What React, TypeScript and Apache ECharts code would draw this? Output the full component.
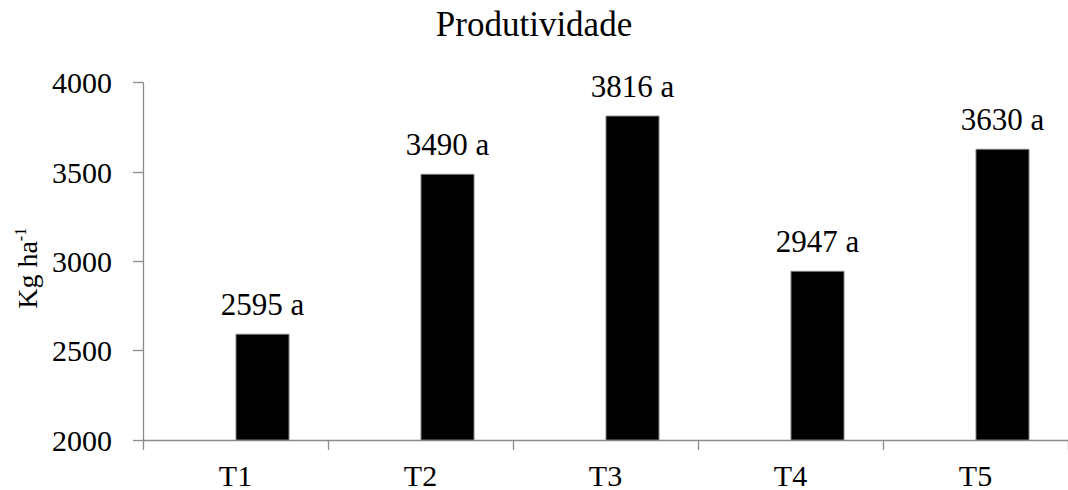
import React, { useEffect, useRef } from "react";
import * as echarts from "echarts";

const categories = ["T1", "T2", "T3", "T4", "T5"];
const yields = [2595, 3490, 3816, 2947, 3630];
const letters = ["a", "a", "a", "a", "a"];
const spacer = ["-", "-", "-", "-", "-"];
const yMin = 2000;
const yMax = 4000;
const yStep = 500;

const FONT = "Liberation Serif";

export default function App() {
  const ref = useRef<HTMLDivElement>(null);
  useEffect(() => {
    document.body.style.margin = "0";
    if (!ref.current) return;
    const chart = echarts.init(ref.current, null, { renderer: "svg" });
    chart.setOption({
      animation: false,
      textStyle: { fontFamily: FONT, color: "#000" },
      title: {
        text: "Produtividade",
        left: "center",
        top: 7,
        padding: [0, 0, 0, 10],
        textStyle: { fontFamily: FONT, fontSize: 35, fontWeight: "normal", color: "#000" },
      },
      grid: { left: 143, top: 82.7, bottom: 49, right: -11.5, containLabel: false },
      xAxis: {
        type: "category",
        data: categories,
        axisLine: { lineStyle: { color: "#8c8c8c", width: 1.3 } },
        axisTick: { show: true, length: 10, inside: false, alignWithLabel: false, lineStyle: { color: "#8c8c8c", width: 1.3 } },
        axisLabel: { fontFamily: FONT, fontSize: 30, color: "#000", margin: 20 },
      },
      yAxis: {
        type: "value",
        min: yMin,
        max: yMax,
        interval: yStep,
        name: "{n|Kg ha}{s|-1}",
        nameLocation: "middle",
        nameGap: 100,
        nameTextStyle: {
          fontFamily: FONT,
          color: "#000",
          padding: [0, 14, 0, 0],
          rich: {
            n: { fontFamily: FONT, fontSize: 28, color: "#000" },
            s: { fontFamily: FONT, fontSize: 16, color: "#000", verticalAlign: "top", padding: [0, 0, 14, 0] },
          },
        },
        axisLine: { show: true, lineStyle: { color: "#8c8c8c", width: 1.3 } },
        axisTick: { show: true, length: 10, lineStyle: { color: "#8c8c8c", width: 1.3 } },
        splitLine: { show: false },
        axisLabel: {
          fontFamily: FONT,
          fontSize: 30,
          color: "#000",
          margin: 31,
          formatter: (v: number) => String(v),
        },
      },
      series: [
        {
          name: "spacer",
          type: "bar",
          data: spacer,
          barWidth: 54,
          barGap: "0%",
          itemStyle: { color: "transparent" },
        },
        {
          name: "Produtividade",
          type: "bar",
          data: yields,
          barWidth: 54,
          barGap: "0%",
          itemStyle: { color: "#000", borderColor: "#7f7f7f", borderWidth: 1 },
          label: {
            show: true,
            position: "top",
            distance: 14,
            fontFamily: FONT,
            fontSize: 31,
            color: "#000",
            formatter: (p: any) => `${p.value} ${letters[p.dataIndex]}`,
          },
        },
      ],
    });
    return () => chart.dispose();
  }, []);
  return <div ref={ref} style={{ width: 1068, height: 490 }} />;
}
